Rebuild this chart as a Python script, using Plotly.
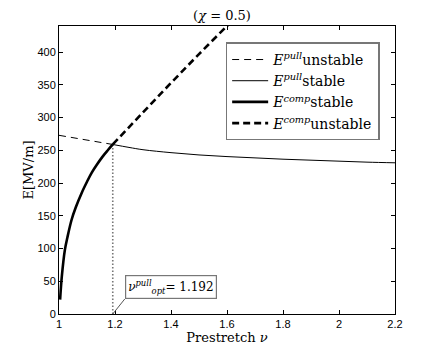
import plotly.graph_objects as go

# Prestretch nu and field E [MV/m]
nu_pull_unstable = [1.0, 1.05, 1.1, 1.15, 1.192]
E_pull_unstable = [273, 269.5, 266, 262.5, 259]

nu_pull_stable = [1.192, 1.25, 1.3, 1.4, 1.5, 1.6, 1.7, 1.8, 1.9, 2.0, 2.1, 2.2]
E_pull_stable = [259, 254.5, 251, 246.5, 243, 240.5, 238.5, 236.5, 235, 233.5, 232, 231]

nu_comp_stable = [1.004, 1.01, 1.021, 1.03, 1.045, 1.06, 1.081, 1.1, 1.117, 1.135, 1.155, 1.175, 1.192]
E_comp_stable = [22, 57, 98, 117, 144, 163, 185, 202, 216, 228, 240, 250.5, 259]

nu_comp_unstable = [1.192, 1.3, 1.4, 1.5, 1.6, 1.65]
E_comp_unstable = [259, 308, 353, 397, 440, 461]

NU_OPT = 1.192
E_OPT = 259

SERIF = "DejaVu Serif"
SANS = "Liberation Sans"

fig = go.Figure()

# vertical marker at the optimal prestretch
fig.add_trace(go.Scatter(
    x=[NU_OPT, NU_OPT], y=[0, E_OPT], mode="lines",
    line=dict(color="#777777", width=1.6, dash="1.5px,2px"),
    showlegend=False, hoverinfo="skip",
))

fig.add_trace(go.Scatter(
    x=nu_pull_unstable, y=E_pull_unstable, mode="lines",
    line=dict(color="black", width=1, dash="7px,5px"),
    name="<i>E</i><sup><i>pull</i></sup>unstable",
))
fig.add_trace(go.Scatter(
    x=nu_pull_stable, y=E_pull_stable, mode="lines",
    line=dict(color="black", width=1, shape="spline"),
    name="<i>E</i><sup><i>pull</i></sup>stable",
))
fig.add_trace(go.Scatter(
    x=nu_comp_stable, y=E_comp_stable, mode="lines",
    line=dict(color="black", width=2.6, shape="spline"),
    name="<i>E</i><sup><i>comp</i></sup>stable",
))
fig.add_trace(go.Scatter(
    x=nu_comp_unstable, y=E_comp_unstable, mode="lines",
    line=dict(color="black", width=2.6, dash="7px,4px", shape="spline"),
    name="<i>E</i><sup><i>comp</i></sup>unstable",
))

fig.add_annotation(
    x=NU_OPT, y=0, xref="x", yref="y",
    text="<i>ν</i><sup><i>pull</i></sup><sub><i>opt</i></sub>= 1.192",
    showarrow=True, arrowhead=0, arrowwidth=1, arrowcolor="#555555",
    ax=12, ay=-15, xanchor="left", yanchor="bottom",
    bordercolor="#777777", borderwidth=1.2, borderpad=2, bgcolor="white",
    font=dict(family=SERIF, size=12, color="black"),
)

axis_common = dict(
    showline=True, linecolor="black", linewidth=1, mirror="ticks",
    ticks="inside", ticklen=4, tickcolor="black", showgrid=False, zeroline=False,
    automargin=False,
    tickfont=dict(family=SANS, size=11, color="black"),
)

# the page body adds an 8px offset top/left, so the figure is 8px smaller
fig.update_layout(
    width=428, height=346,
    margin=dict(l=51, r=41, t=18, b=40),
    paper_bgcolor="white", plot_bgcolor="white",
    title=dict(text="(<i>χ</i> = 0.5)", x=0.5, xanchor="center",
               y=0.978, yanchor="middle",
               font=dict(family=SERIF, size=13, color="black")),
    xaxis=dict(range=[1, 2.2], dtick=0.2, tick0=1,
               title=dict(text="Prestretch <i>ν</i>", standoff=2,
                          font=dict(family=SERIF, size=13, color="black")),
               **axis_common),
    yaxis=dict(range=[0, 440], dtick=50, tick0=0,
               title=dict(text="E[MV/m]", standoff=0,
                          font=dict(family=SERIF, size=13, color="black")),
               **axis_common),
    legend=dict(x=0.496, y=0.943, xanchor="left", yanchor="top",
                bordercolor="#777777", borderwidth=1.5, bgcolor="white",
                font=dict(family=SERIF, size=14, color="black"),
                itemwidth=36),
    showlegend=True,
)

fig.write_html("out.html")
